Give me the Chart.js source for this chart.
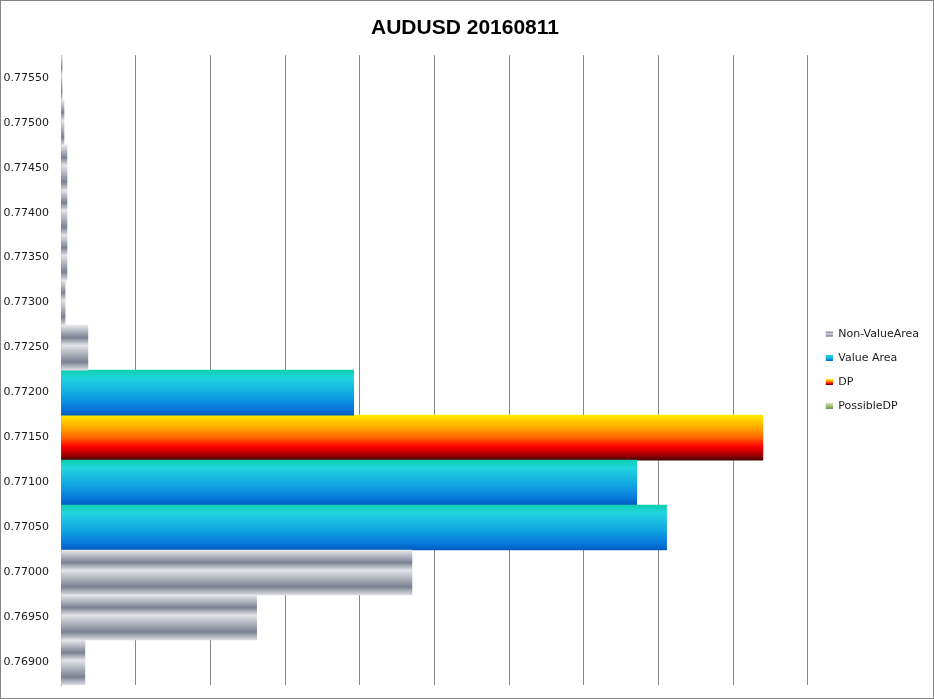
<!DOCTYPE html>
<html>
<head>
<meta charset="utf-8">
<script src="https://cdn.jsdelivr.net/npm/chart.js@4"></script>
<style>
  html, body { margin: 0; padding: 0; background: #fff; }
  #wrap {
    position: relative;
    width: 934px;
    height: 699px;
    box-sizing: border-box;
    border: 1px solid #868686;
  }
</style>
</head>
<body>
<div id="wrap"><canvas id="chart"></canvas></div>
<script>
// 価格帯（上から下）
const PRICE_LABELS = [
  '0.77550', '0.77500', '0.77450', '0.77400', '0.77350', '0.77300', '0.77250',
  '0.77200', '0.77150', '0.77100', '0.77050', '0.77000', '0.76950', '0.76900',
];

// シリーズ値（目盛りなしのため相対値、1グリッド=10）
const NON_VALUE_AREA = [0.15, 0.4, 0.8, 0.8, 0.8, 0.55, 3.6, null, null, null, null, 47.0, 26.2, 3.2];
const VALUE_AREA     = [null, null, null, null, null, null, null, 39.2, null, 77.1, 81.1, null, null, null];
const DP             = [null, null, null, null, null, null, null, null, 94.0, null, null, null, null, null];
const POSSIBLE_DP    = [null, null, null, null, null, null, null, null, null, null, null, null, null, null];

const SERIES_NAMES = ['Non-ValueArea', 'Value Area', 'DP', 'PossibleDP'];

// グラデーション
const STOPS = {
  silver: [[0, '#e8e9ec'], [0.28, '#7b8193'], [0.45, '#e4e5e9'], [0.82, '#7b8193'], [1, '#dcdde2']],
  value: [[0, '#0ccfae'], [0.18, '#22d4e0'], [0.55, '#10a6e2'], [0.85, '#0878dc'], [1, '#005cbf']],
  dp: [[0, '#ffec00'], [0.3, '#ffa200'], [0.5, '#ff6400'], [0.7, '#ff0000'], [0.86, '#b00000'], [1, '#4e0000']],
  possible: [[0, '#dfe6b8'], [0.5, '#9cc070'], [1, '#5c9a48']],
};

function barGradient(stops) {
  return ctx => {
    const chart = ctx.chart;
    const area = chart.chartArea;
    if (!area || ctx.type !== 'data') return stops[Math.floor(stops.length / 2)][1];
    const y = chart.scales.y.getPixelForValue(ctx.dataIndex);
    const half = (area.bottom - area.top) / PRICE_LABELS.length / 2;
    const g = chart.ctx.createLinearGradient(0, y - half, 0, y + half);
    stops.forEach(([o, c]) => g.addColorStop(o, c));
    return g;
  };
}

// 凡例用の小さな四角（右寄せで描画）
function legendSwatch(stops) {
  const c = document.createElement('canvas');
  c.width = 12;
  c.height = 6;
  const x = c.getContext('2d');
  const g = x.createLinearGradient(0, 0, 0, 6);
  stops.forEach(([o, col]) => g.addColorStop(o, col));
  x.fillStyle = g;
  x.fillRect(5, 0, 7, 6);
  return c;
}
const SWATCHES = [STOPS.silver, STOPS.value, STOPS.dp, STOPS.possible].map(legendSwatch);

const GRID = '#868686';
const TEXT = '#1a1a1a';

new Chart(document.getElementById('chart'), {
  type: 'bar',
  data: {
    labels: PRICE_LABELS,
    datasets: [
      { label: SERIES_NAMES[0], data: NON_VALUE_AREA, backgroundColor: barGradient(STOPS.silver) },
      { label: SERIES_NAMES[1], data: VALUE_AREA, backgroundColor: barGradient(STOPS.value) },
      { label: SERIES_NAMES[2], data: DP, backgroundColor: barGradient(STOPS.dp) },
      { label: SERIES_NAMES[3], data: POSSIBLE_DP, backgroundColor: barGradient(STOPS.possible) },
    ],
  },
  options: {
    indexAxis: 'y',
    responsive: true,
    maintainAspectRatio: false,
    animation: false,
    datasets: {
      bar: { barPercentage: 1, categoryPercentage: 1, borderWidth: 0, skipNull: true },
    },
    layout: { padding: { left: 0, right: 4, top: 0, bottom: 13 } },
    scales: {
      x: {
        stacked: true,
        min: 0,
        max: 100,
        ticks: { display: false, stepSize: 10 },
        grid: { color: GRID, drawTicks: false },
        border: { display: false },
        afterFit: scale => { scale.height = 0; },
      },
      y: {
        stacked: true,
        grid: { display: false, drawTicks: false },
        border: { color: GRID },
        ticks: {
          color: TEXT,
          padding: 12,
          autoSkip: false,
          font: { family: "'DejaVu Sans', sans-serif", size: 11 },
        },
        afterFit: scale => {
          scale.width = 60;
          scale.paddingTop = 0;
          scale.paddingBottom = 0;
        },
      },
    },
    plugins: {
      title: {
        display: true,
        text: 'AUDUSD 20160811',
        color: '#000',
        font: { family: "'Liberation Sans', Arial, sans-serif", size: 21, weight: 'bold' },
        padding: { top: 15, bottom: 14 },
      },
      legend: {
        position: 'right',
        fullSize: false,
        labels: {
          color: TEXT,
          font: { family: "'DejaVu Sans', sans-serif", size: 11 },
          padding: 13,
          usePointStyle: true,
          pointStyleWidth: 12,
          boxHeight: 6,
          generateLabels: chart =>
            Chart.defaults.plugins.legend.labels.generateLabels(chart).map((item, i) => ({
              ...item,
              pointStyle: SWATCHES[i],
            })),
        },
      },
      tooltip: { enabled: false },
    },
  },
});
</script>
</body>
</html>
